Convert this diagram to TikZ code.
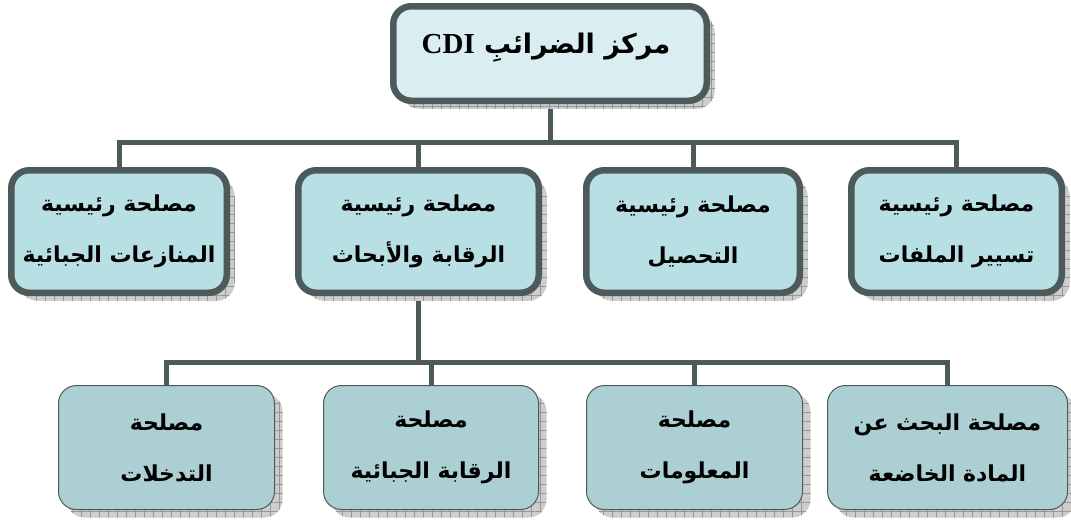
\documentclass[tikz,border=0pt]{standalone}
\usepackage{fontspec}
\setmainfont{DejaVu Sans}
\newfontfamily\arabicfont[Script=Arabic]{DejaVu Sans}
\newfontfamily\latinserif{Liberation Serif}
\TeXXeTstate=1
\usetikzlibrary{shadows,patterns.meta,backgrounds}
\definecolor{edge}{RGB}{76,90,90}
\definecolor{topfill}{RGB}{218,238,241}
\definecolor{midfill}{RGB}{184,223,227}
\definecolor{lowfill}{RGB}{171,207,210}
\definecolor{shgray}{RGB}{205,205,205}
\definecolor{shline}{RGB}{150,150,150}
\newcommand{\arl}[1]{\beginR #1\endR}
\tikzset{
  gridshadow/.style={
    general shadow={shadow xshift=8pt,shadow yshift=-8pt,fill=shgray},
    general shadow={shadow xshift=8pt,shadow yshift=-8pt,
      pattern={Hatch[angle=0,distance=9pt,line width=0.6pt]},pattern color=shline}},
  boxbase/.style={rounded corners=18pt, draw=edge, align=center, inner sep=0pt,
    font=\arabicfont\bfseries\fontsize{22}{51}\selectfont, gridshadow},
  topbox/.style={boxbase, line width=6.5pt, fill=topfill, minimum width=313.5pt, minimum height=94.5pt,
    font=\arabicfont\bfseries\fontsize{27}{30}\selectfont},
  midbox/.style={boxbase, line width=6.5pt, fill=midfill, minimum height=122.5pt},
  lowbox/.style={boxbase, line width=1pt, fill=lowfill, minimum height=124pt},
  conn/.style={draw=edge, line width=5pt, line join=miter}
}
\begin{document}
\begin{tikzpicture}[x=1pt,y=-1pt]
\useasboundingbox (0,0) rectangle (1071,520);
\coordinate (bus1) at (0,142);
\coordinate (bus2) at (0,362);
% top
\node[topbox] (top) at (550,53.5) {\hspace*{-8pt}\raisebox{0pt}[0pt][0pt]{\arl{مركز الضرائبِ \beginL{\latinserif\bfseries\fontsize{29}{30}\selectfont CDI}\endL}}};
% second row
\node[midbox, minimum width=215.5pt] (A) at (119,231.5) {\arl{مصلحة رئيسية}\\\arl{المنازعات الجبائية}};
\node[midbox, minimum width=240.5pt] (B) at (418.5,231.5) {\arl{مصلحة رئيسية}\\\arl{الرقابة والأبحاث}};
\node[midbox, minimum width=213.5pt] (C) at (693,231.5) {\arl{مصلحة رئيسية}\\\arl{التحصيل}};
\node[midbox, minimum width=210.5pt] (D) at (956.5,231.5) {\arl{مصلحة رئيسية}\\\arl{تسيير الملفات}};
% third row
\node[lowbox, minimum width=216pt] (E) at (166.5,447.5) {\arl{مصلحة}\\\arl{التدخلات}};
\node[lowbox, minimum width=215pt] (F) at (431,447.5) {\arl{مصلحة}\\\arl{الرقابة الجبائية}};
\node[lowbox, minimum width=216pt] (G) at (694.5,447.5) {\arl{مصلحة}\\\arl{المعلومات}};
\node[lowbox, minimum width=240pt] (H) at (947.5,447.5) {\arl{مصلحة البحث عن}\\\arl{المادة الخاضعة}};
% connectors
\begin{scope}[on background layer]
\draw[conn] (top.south) -- (top.south |- bus1);
\draw[conn] (A.north) -- (A.north |- bus1) -- (D.north |- bus1) -- (D.north);
\draw[conn] (B.north) -- (B.north |- bus1);
\draw[conn] (C.north) -- (C.north |- bus1);
\draw[conn] (B.south) -- (B.south |- bus2);
\draw[conn] (E.north) -- (E.north |- bus2) -- (H.north |- bus2) -- (H.north);
\draw[conn] (F.north) -- (F.north |- bus2);
\draw[conn] (G.north) -- (G.north |- bus2);
\end{scope}
\end{tikzpicture}
\end{document}
